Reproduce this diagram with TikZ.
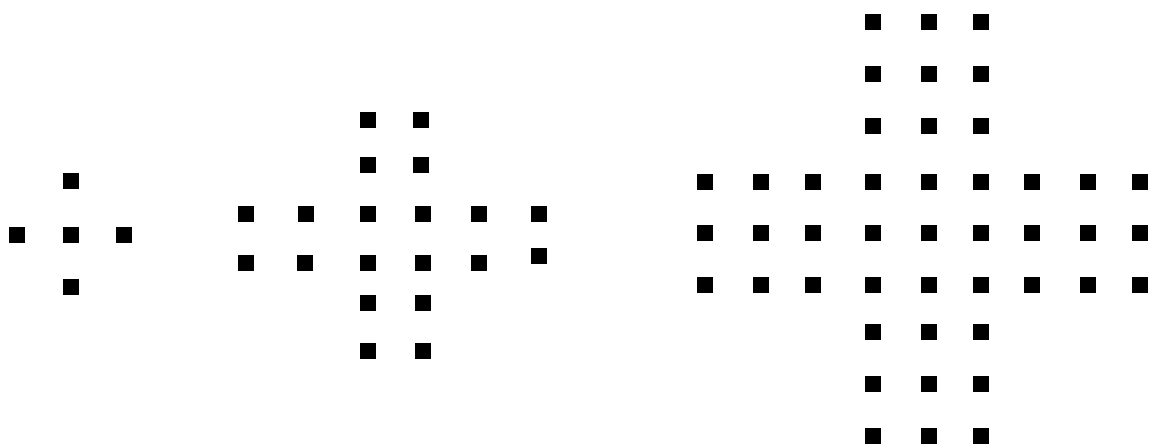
\documentclass[tikz,border=0pt]{standalone}
\begin{document}
\begin{tikzpicture}[x=1pt,y=-1pt,sq/.style={fill=black}]
\useasboundingbox (0,0) rectangle (1149,445);
\newcommand{\sqdot}[2]{\fill[sq] (#1-8,#2-8) rectangle ++(16,16);}
% figure 1
\sqdot{70.7}{181.3}
\sqdot{17.3}{234.7}\sqdot{70.7}{234.7}\sqdot{123.7}{234.7}
\sqdot{70.7}{287.3}
% figure 2
\foreach \y in {119.7,165.3}{\sqdot{368}{\y}\sqdot{421.3}{\y}}
\foreach \y in {214,262.7,302.7,351.3}{\sqdot{368}{\y}\sqdot{423}{\y}}
\sqdot{246}{214}\sqdot{306.3}{214}\sqdot{478.7}{214}\sqdot{539}{214}
\sqdot{246}{262.7}\sqdot{304.7}{262.7}\sqdot{478.7}{262.7}\sqdot{539}{255.7}
% figure 3
\foreach \x in {873.3,929.3,981}{
  \foreach \y in {22.3,74,125.7,332,384,435.7}{\sqdot{\x}{\y}}}
\foreach \x in {705.3,761.3,813,873.3,929.3,981,1032.3,1088.3,1140}{
  \foreach \y in {181.7,233.3,285}{\sqdot{\x}{\y}}}
\end{tikzpicture}
\end{document}
